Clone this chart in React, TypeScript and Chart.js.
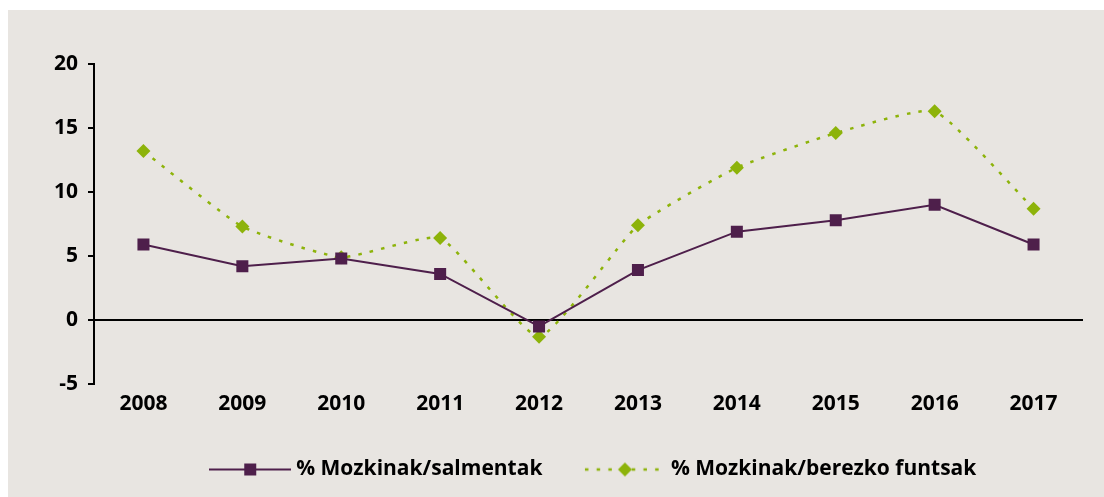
import React, { useEffect, useRef } from "react";
import { Chart, registerables } from "chart.js";

Chart.register(...registerables);

const years = ["2008", "2009", "2010", "2011", "2012", "2013", "2014", "2015", "2016", "2017"];
const salmentak = [5.9, 4.2, 4.8, 3.6, -0.5, 3.9, 6.9, 7.8, 9.0, 5.9];
const funtsak = [13.2, 7.3, 4.9, 6.4, -1.3, 7.4, 11.9, 14.6, 16.3, 8.7];
const seriesLabels = ["% Mozkinak/salmentak", "% Mozkinak/berezko funtsak"];
const yMin = -5;
const yMax = 20;
const yStep = 5;

const PURPLE = "#4e1f4b";
const GREEN = "#8db30a";
const PANEL = "#e8e5e1";
const FAMILY = "'Open Sans', sans-serif";

function makeSquareImg(): HTMLCanvasElement {
  const c = document.createElement("canvas");
  c.width = 82;
  c.height = 16;
  const g = c.getContext("2d")!;
  g.strokeStyle = PURPLE;
  g.lineWidth = 2;
  g.beginPath();
  g.moveTo(0, 8);
  g.lineTo(82, 8);
  g.stroke();
  g.fillStyle = PURPLE;
  g.fillRect(35, 2, 12, 12);
  return c;
}

function makeDiamondImg(): HTMLCanvasElement {
  const c = document.createElement("canvas");
  c.width = 82;
  c.height = 16;
  const g = c.getContext("2d")!;
  g.strokeStyle = GREEN;
  g.lineWidth = 2.5;
  g.setLineDash([3.5, 8.2]);
  g.beginPath();
  g.moveTo(1, 8);
  g.lineTo(82, 8);
  g.stroke();
  g.fillStyle = GREEN;
  g.beginPath();
  g.moveTo(41, 1);
  g.lineTo(48, 8);
  g.lineTo(41, 15);
  g.lineTo(34, 8);
  g.closePath();
  g.fill();
  return c;
}

const legendShift = {
  id: "legendShift",
  afterLayout(chart: any) {
    const l = chart.legend;
    if (l) {
      l.left += 7;
      l.right += 7;
    }
  },
};

export default function App() {
  const ref = useRef<HTMLCanvasElement>(null);

  useEffect(() => {
    const imgs = [makeSquareImg(), makeDiamondImg()];
    const font = { family: FAMILY, size: 21, weight: "bold" as const };
    const chart = new Chart(ref.current!, {
      type: "line",
      data: {
        labels: years,
        datasets: [
          {
            label: seriesLabels[0],
            data: salmentak,
            borderColor: PURPLE,
            backgroundColor: PURPLE,
            borderWidth: 2,
            pointStyle: "rect",
            pointRadius: 8.5,
            pointBorderWidth: 0,
            tension: 0,
            fill: false,
          },
          {
            label: seriesLabels[1],
            data: funtsak,
            borderColor: GREEN,
            backgroundColor: GREEN,
            borderWidth: 2.5,
            borderDash: [3.5, 8.2],
            pointStyle: "rectRot",
            pointRadius: 7,
            pointBorderWidth: 0,
            tension: 0.15,
            fill: false,
          },
        ],
      },
      options: {
        responsive: false,
        animation: false,
        layout: { padding: { left: 0, right: 21, top: 54, bottom: 0 } },
        scales: {
          x: {
            offset: true,
            grid: { display: false, drawTicks: false },
            border: { display: false },
            ticks: {
              color: "#000",
              font: { ...font, lineHeight: "13px" },
              padding: 13.5,
              maxRotation: 0,
              autoSkip: false,
            },
            afterFit: (s: any) => {
              s.height = 28;
            },
          },
          y: {
            min: yMin,
            max: yMax,
            ticks: { stepSize: yStep, color: "#000", font, padding: 10 },
            grid: {
              color: (ctx: any) => (ctx.tick && ctx.tick.value === 0 ? "#000" : "rgba(0,0,0,0)"),
              lineWidth: 2,
              tickColor: "#000",
              tickLength: 6,
              tickWidth: 2,
              drawTicks: true,
            },
            border: { display: true, color: "#000", width: 2 },
            afterFit: (s: any) => {
              s.width = 86;
            },
          },
        },
        plugins: {
          tooltip: { enabled: false },
          legend: {
            position: "bottom",
            fullSize: false,
            labels: {
              usePointStyle: true,
              pointStyleWidth: 71,
              padding: 47,
              color: "#000",
              font,
              generateLabels: (ch: any) => {
                const items = Chart.defaults.plugins.legend.labels.generateLabels(ch);
                items.forEach((it: any, i: number) => {
                  it.pointStyle = imgs[i];
                  it.lineWidth = 0;
                });
                return items;
              },
            },
          },
        },
      },
      plugins: [legendShift],
    } as any);
    return () => chart.destroy();
  }, []);

  return (
    <div
      style={{
        position: "fixed",
        left: 8,
        top: 10,
        width: 1096,
        height: 487,
        background: PANEL,
      }}
    >
      <canvas ref={ref} width={1096} height={480} style={{ display: "block" }} />
    </div>
  );
}
